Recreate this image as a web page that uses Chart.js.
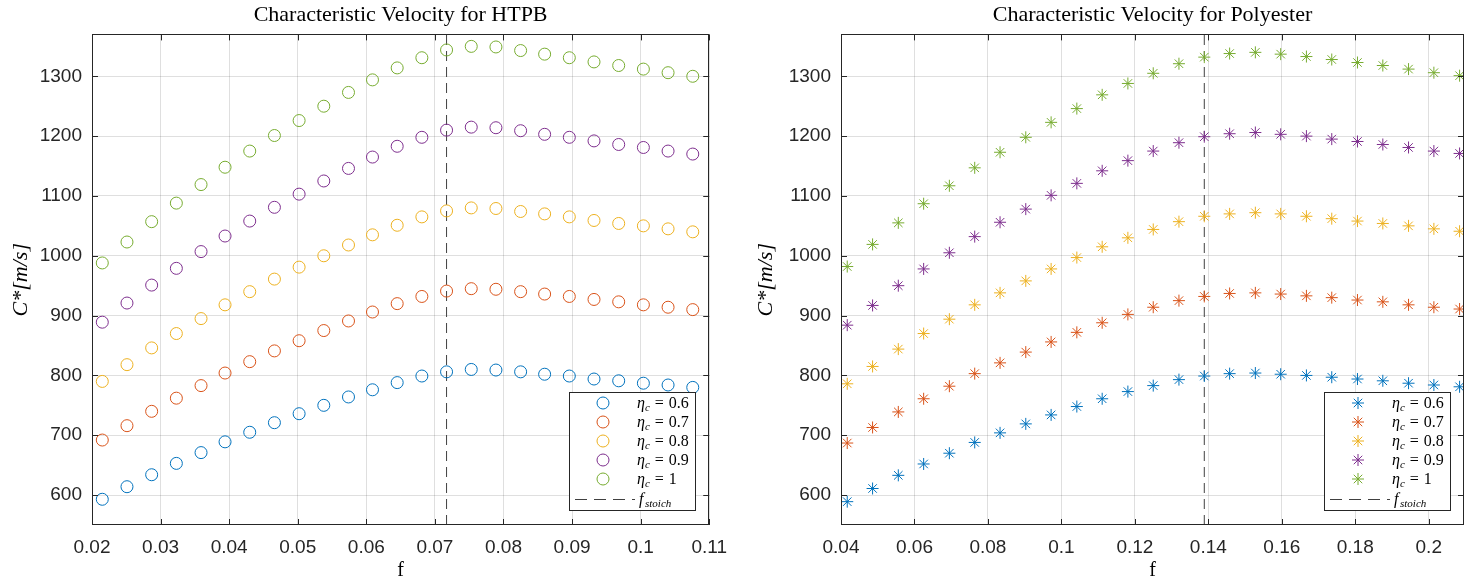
<!DOCTYPE html>
<html>
<head>
<meta charset="utf-8">
<script src="https://cdn.jsdelivr.net/npm/chart.js@4/dist/chart.umd.min.js"></script>
<style>
  html, body { margin: 0; padding: 0; background: #fff; }
  #wrap { position: relative; width: 1477px; height: 578px; overflow: hidden; }
  canvas { position: absolute; top: 0; }
</style>
</head>
<body>
<div id="wrap">
  <canvas id="htpb" width="738" height="578" style="left:0"></canvas>
  <canvas id="poly" width="739" height="578" style="left:738px"></canvas>
</div>
<script>
// combustion efficiency levels, one series each
const etaLabels = ['0.6', '0.7', '0.8', '0.9', '1'];
const seriesColors = ['#0072BD', '#D95319', '#EDB120', '#7E2F8E', '#77AC30'];

// shared C* axis
const cRange = [550, 1370];
const cTicks = [600, 700, 800, 900, 1000, 1100, 1200, 1300];

// HTPB
const htpbF = [0.0215, 0.0251, 0.0287, 0.0323, 0.0359, 0.0394, 0.0430, 0.0466, 0.0502, 0.0538,
  0.0574, 0.0609, 0.0645, 0.0681, 0.0717, 0.0753, 0.0789, 0.0825, 0.0860, 0.0896,
  0.0932, 0.0968, 0.1004, 0.1040, 0.1076];
const htpbStoich = 0.0717;
const htpbRange = [0.02, 0.11];
const htpbTicks = [0.02, 0.03, 0.04, 0.05, 0.06, 0.07, 0.08, 0.09, 0.1, 0.11];
const htpbC06 = [593, 614, 634, 653, 671, 689, 705, 721, 736, 750, 764, 776, 788, 799, 806, 810, 809, 806, 802, 799, 794, 791, 787, 784, 780];
const htpbC07 = [692, 716, 740, 762, 783, 804, 823, 841, 858, 875, 891, 906, 920, 932, 941, 945, 944, 940, 936, 932, 927, 923, 918, 914, 910];
const htpbC08 = [790, 818, 846, 870, 895, 918, 940, 961, 981, 1000, 1018, 1035, 1051, 1065, 1075, 1080, 1079, 1074, 1070, 1065, 1059, 1054, 1050, 1045, 1040];
const htpbC09 = [889, 921, 951, 979, 1007, 1033, 1058, 1081, 1103, 1125, 1146, 1165, 1183, 1198, 1210, 1215, 1214, 1209, 1203, 1198, 1192, 1186, 1181, 1175, 1170];
const htpbC10 = [988, 1023, 1057, 1088, 1119, 1148, 1175, 1201, 1226, 1250, 1273, 1294, 1314, 1331, 1344, 1350, 1349, 1343, 1337, 1331, 1324, 1318, 1312, 1306, 1300];

// Polyester
const polyF = [0.0417, 0.0486, 0.0556, 0.0625, 0.0695, 0.0764, 0.0833, 0.0903, 0.0972, 0.1042,
  0.1111, 0.1181, 0.1250, 0.1320, 0.1389, 0.1458, 0.1528, 0.1597, 0.1667, 0.1736,
  0.1806, 0.1875, 0.1945, 0.2014, 0.2084];
const polyStoich = 0.1389;
const polyRange = [0.04, 0.2096];
const polyTicks = [0.04, 0.06, 0.08, 0.1, 0.12, 0.14, 0.16, 0.18, 0.2];
const polyC06 = [589, 611, 633, 652, 670, 688, 704, 719, 734, 748, 761, 773, 783, 793, 799, 803, 804, 802, 800, 797, 794, 791, 787, 784, 781];
const polyC07 = [687, 713, 739, 761, 782, 803, 821, 839, 856, 872, 888, 902, 914, 925, 932, 937, 938, 936, 933, 930, 926, 923, 918, 914, 911];
const polyC08 = [786, 815, 844, 870, 894, 918, 938, 958, 978, 997, 1015, 1030, 1044, 1057, 1066, 1070, 1072, 1070, 1066, 1062, 1058, 1054, 1050, 1045, 1041];
const polyC09 = [884, 917, 950, 978, 1005, 1032, 1056, 1078, 1101, 1121, 1142, 1159, 1175, 1189, 1199, 1204, 1206, 1203, 1200, 1195, 1191, 1186, 1181, 1175, 1171];
const polyC10 = [982, 1019, 1055, 1087, 1117, 1147, 1173, 1198, 1223, 1246, 1269, 1288, 1305, 1321, 1332, 1338, 1340, 1337, 1333, 1328, 1323, 1318, 1312, 1306, 1301];

const axisColor = '#262626';
const gridColor = 'rgba(38, 38, 38, 0.15)';
const serif = '"Liberation Serif", "Times New Roman", serif';
const sans = '"Liberation Sans", Arial, sans-serif';

function drawMarker(ctx, style, x, y, r) {
  ctx.beginPath();
  if (style === 'circle') {
    ctx.arc(x, y, r, 0, Math.PI * 2);
  } else {
    const d = r * Math.SQRT1_2;
    ctx.moveTo(x - r, y); ctx.lineTo(x + r, y);
    ctx.moveTo(x, y - r); ctx.lineTo(x, y + r);
    ctx.moveTo(x - d, y - d); ctx.lineTo(x + d, y + d);
    ctx.moveTo(x - d, y + d); ctx.lineTo(x + d, y - d);
  }
  ctx.stroke();
}

// MATLAB-like box with inward tick marks
const axesBox = {
  id: 'axesBox',
  afterDatasetsDraw(chart) {
    const { ctx, chartArea: a, scales } = chart;
    ctx.save();
    ctx.strokeStyle = axisColor;
    ctx.lineWidth = 1;
    ctx.strokeRect(Math.round(a.left) + 0.5, Math.round(a.top) + 0.5,
      Math.round(a.right - a.left) - 1, Math.round(a.bottom - a.top) - 1);
    ctx.beginPath();
    scales.x.ticks.forEach(t => {
      const px = Math.round(scales.x.getPixelForValue(t.value)) + 0.5;
      ctx.moveTo(px, a.bottom); ctx.lineTo(px, a.bottom - 6);
      ctx.moveTo(px, a.top); ctx.lineTo(px, a.top + 6);
    });
    scales.y.ticks.forEach(t => {
      const py = Math.round(scales.y.getPixelForValue(t.value)) + 0.5;
      ctx.moveTo(a.left, py); ctx.lineTo(a.left + 6, py);
      ctx.moveTo(a.right, py); ctx.lineTo(a.right - 6, py);
    });
    ctx.stroke();
    ctx.restore();
  }
};

// legend box in the lower right corner, with eta_c subscripts
const mathLegend = {
  id: 'mathLegend',
  afterDraw(chart) {
    const { ctx, chartArea: a } = chart;
    const w = 126, h = 118;
    const left = Math.round(a.right - 14 - w), top = Math.round(a.bottom - 15 - h);
    ctx.save();
    ctx.fillStyle = '#fff';
    ctx.fillRect(left, top, w, h);
    ctx.strokeStyle = axisColor;
    ctx.lineWidth = 1;
    ctx.strokeRect(left + 0.5, top + 0.5, w, h);
    ctx.textBaseline = 'alphabetic';
    let row = 0;
    chart.data.datasets.forEach(ds => {
      if (ds.isStoich) return;
      const cy = top + 11 + 19 * row;
      ctx.strokeStyle = ds.pointBorderColor;
      ctx.lineWidth = 1;
      drawMarker(ctx, ds.pointStyle, left + 34, cy, 6);
      let x = left + 68;
      const base = cy + 5;
      ctx.fillStyle = '#000';
      ctx.font = 'italic 16px ' + serif;
      ctx.fillText('η', x, base);
      x += ctx.measureText('η').width;
      ctx.font = 'italic 11px ' + serif;
      ctx.fillText('c', x, base + 3);
      x += ctx.measureText('c').width + 5;
      ctx.font = '16px ' + serif;
      ctx.fillText('=', x, base);
      x += ctx.measureText('=').width + 5;
      ctx.fillText(ds.label, x, base);
      row++;
    });
    const sy = top + 107;
    ctx.strokeStyle = '#404040';
    ctx.setLineDash([12, 7]);
    ctx.beginPath();
    ctx.moveTo(left + 6, sy + 0.5); ctx.lineTo(left + 66, sy + 0.5);
    ctx.stroke();
    ctx.setLineDash([]);
    ctx.fillStyle = '#000';
    ctx.font = 'italic 16px ' + serif;
    ctx.fillText('f', left + 70, sy + 5);
    ctx.font = 'italic 11px ' + serif;
    ctx.fillText('stoich', left + 76, sy + 8);
    ctx.restore();
  }
};

function makeChart(id, cfg) {
  const datasets = cfg.series.map((ys, i) => ({
    label: etaLabels[i],
    data: cfg.f.map((x, j) => ({ x: x, y: ys[j] })),
    showLine: false,
    pointStyle: cfg.marker,
    pointRadius: 6,
    pointHoverRadius: 6,
    pointBorderWidth: 1,
    pointBorderColor: seriesColors[i],
    pointBackgroundColor: 'rgba(0,0,0,0)',
    borderColor: seriesColors[i]
  }));
  datasets.push({
    label: 'stoich',
    isStoich: true,
    data: [{ x: cfg.stoich, y: cRange[0] }, { x: cfg.stoich, y: cRange[1] }],
    showLine: true,
    borderColor: '#404040',
    borderWidth: 1,
    borderDash: [10, 6],
    pointRadius: 0
  });

  return new Chart(document.getElementById(id), {
    type: 'scatter',
    data: { datasets: datasets },
    plugins: [axesBox, mathLegend],
    options: {
      responsive: false,
      animation: false,
      events: [],
      layout: { padding: { left: 0, right: cfg.padRight, top: 0, bottom: 0 } },
      plugins: {
        legend: { display: false },
        tooltip: { enabled: false },
        title: {
          display: true,
          fullSize: false,
          text: cfg.title,
          color: '#000',
          font: { family: serif, size: 22, weight: 'normal' },
          padding: { top: 2, bottom: 6 }
        }
      },
      scales: {
        x: {
          type: 'linear',
          min: cfg.range[0],
          max: cfg.range[1],
          afterFit: s => { s.height = 53; },
          afterBuildTicks: s => { s.ticks = cfg.ticks.map(v => ({ value: v })); },
          ticks: {
            color: axisColor,
            font: { family: sans, size: 19 },
            padding: 11,
            maxRotation: 0,
            callback: v => String(v)
          },
          grid: { color: gridColor, drawTicks: false },
          border: { display: false },
          title: {
            display: true,
            text: 'f',
            color: '#000',
            font: { family: serif, size: 20, lineHeight: 0.75 },
            padding: { top: 0, bottom: 0 }
          }
        },
        y: {
          type: 'linear',
          min: cRange[0],
          max: cRange[1],
          afterFit: s => { s.width = cfg.yWidth; },
          afterBuildTicks: s => { s.ticks = cTicks.map(v => ({ value: v })); },
          ticks: {
            color: axisColor,
            font: { family: sans, size: 19 },
            padding: 10,
            callback: v => String(v)
          },
          grid: { color: gridColor, drawTicks: false },
          border: { display: false },
          title: {
            display: true,
            text: 'C*[m/s]',
            color: '#000',
            font: { family: serif, size: 22, style: 'italic' },
            padding: { top: cfg.yTitlePad, bottom: 0 }
          }
        }
      }
    }
  });
}

makeChart('htpb', {
  title: 'Characteristic Velocity for HTPB',
  f: htpbF,
  series: [htpbC06, htpbC07, htpbC08, htpbC09, htpbC10],
  stoich: htpbStoich,
  range: htpbRange,
  ticks: htpbTicks,
  marker: 'circle',
  yWidth: 92,
  yTitlePad: 8,
  padRight: 23
});

makeChart('poly', {
  title: 'Characteristic Velocity for Polyester',
  f: polyF,
  series: [polyC06, polyC07, polyC08, polyC09, polyC10],
  stoich: polyStoich,
  range: polyRange,
  ticks: polyTicks,
  marker: 'star',
  yWidth: 103,
  yTitlePad: 15,
  padRight: 13
});
</script>
</body>
</html>
